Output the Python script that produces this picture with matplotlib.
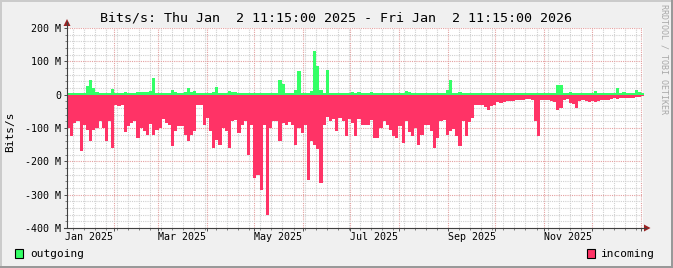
import datetime as dt
import numpy as np
import matplotlib
matplotlib.use('Agg')
import matplotlib.pyplot as plt
import matplotlib.dates as mdates
from matplotlib.ticker import FixedLocator, MultipleLocator, NullFormatter
from matplotlib.patches import Rectangle, Polygon
from matplotlib.lines import Line2D

W, H = 673, 268

# time range of the graph, data consolidated in 2-day steps
start = dt.datetime(2025, 1, 2, 11, 15)
end = dt.datetime(2026, 1, 2, 11, 15)
step_days = 2

# outgoing traffic, Mbit/s (drawn upwards)
outgoing = [
    5, 5, 6, 4, 5, 5, 25, 45, 20, 8,
    5, 5, 4, 5, 18, 4, 5, 5, 7, 6,
    5, 6, 7, 7, 8, 8, 10, 50, 6, 5,
    5, 5, 6, 15, 8, 5, 5,
    8, 20, 8, 10, 5, 5, 5, 5, 5, 8,
    23, 5, 5, 5, 10, 8, 8, 6, 5, 5,
    5, 5, 5, 4, 5, 5, 5, 5, 5, 6,
    43, 33, 5, 5, 5, 15,
    70, 5, 4, 4, 10, 130, 85, 15, 5, 75,
    5, 4, 4, 5, 5, 5, 5, 8, 5, 8,
    5, 5, 5, 8, 5, 5, 5, 5, 5, 5,
    5, 5, 5, 6, 12, 8, 5,
    5, 5, 5, 4, 5, 5, 5, 4, 4, 4,
    15, 45, 5, 5, 7, 5, 5, 5, 6, 5,
    5, 6, 5, 5, 5, 6, 5, 5, 5, 5,
    5, 6, 6, 5, 6, 6, 6,
    5, 5, 5, 6, 5, 5, 6, 5, 30, 28,
    6, 6, 7, 5, 6, 5, 6, 6, 5, 6,
    12, 6, 5, 5, 5, 6, 6, 20, 6, 7,
    6, 6, 5, 15, 7, 6,
]

# incoming traffic, Mbit/s (drawn downwards)
incoming = [
    -100, -125, -85, -80, -170, -90, -105, -140, -105, -100,
    -78, -100, -138, -78, -160, -30, -35, -30, -113, -95,
    -85, -78, -130, -100, -110, -120, -88, -120, -105, -100,
    -72, -85, -90, -155, -110, -95, -95,
    -120, -140, -120, -110, -30, -30, -90, -70, -108, -160,
    -135, -150, -100, -110, -160, -80, -75, -115, -90, -80,
    -180, -90, -250, -240, -285, -90, -360, -100, -78, -78,
    -140, -85, -90, -83, -90, -150,
    -100, -115, -92, -255, -140, -150, -162, -265, -90, -68,
    -78, -72, -110, -70, -80, -125, -72, -85, -125, -72,
    -92, -90, -90, -75, -130, -130, -100, -80, -90, -105,
    -125, -130, -95, -145, -80, -113, -125,
    -100, -150, -120, -92, -92, -110, -160, -130, -80, -77,
    -120, -110, -103, -125, -155, -80, -125, -82, -70, -30,
    -32, -30, -38, -47, -33, -31, -22, -25, -22, -18,
    -18, -18, -16, -17, -15, -13, -13,
    -16, -80, -123, -16, -15, -15, -18, -23, -45, -40,
    -15, -13, -25, -27, -40, -20, -17, -20, -23, -20,
    -23, -20, -15, -17, -15, -12, -10, -12, -11, -10,
    -11, -10, -10, -8, -7, -5,
]

yticks = [200, 100, 0, -100, -200, -300, -400]
ytick_labels = ['200 M', '100 M', '0', '-100 M', '-200 M', '-300 M', '-400 M']
xlabel_months = [(2025, 1), (2025, 3), (2025, 5), (2025, 7), (2025, 9), (2025, 11)]

plt.rcParams['font.family'] = 'DejaVu Sans Mono'

fig = plt.figure(figsize=(W / 100, H / 100), dpi=100, facecolor='#F0F0F0')


def fx(x):
    return x / W


def fy(y):
    return 1 - y / H


ax = fig.add_axes([fx(67), fy(228), 576 / W, 200 / H])
ax.set_facecolor('white')
for s in ax.spines.values():
    s.set_visible(False)

edges = [start + dt.timedelta(days=step_days * i) for i in range(len(incoming) + 1)]
x = mdates.date2num(edges)
out_v = np.append(outgoing, outgoing[-1])
in_v = np.append(incoming, incoming[-1])
ax.fill_between(x, 0, out_v, step='post', color='#33FF66', lw=0, zorder=3)
ax.fill_between(x, 0, in_v, step='post', color='#FF3366', lw=0, zorder=3)

ax.set_xlim(mdates.date2num(start), mdates.date2num(end))
ax.set_ylim(-400, 200)

# grid: months major, weeks minor; 100 M major, 20 M minor
ax.xaxis.set_major_locator(mdates.MonthLocator())
ax.xaxis.set_minor_locator(mdates.WeekdayLocator(byweekday=mdates.MO))
ax.xaxis.set_major_formatter(NullFormatter())
ax.yaxis.set_major_locator(FixedLocator(yticks))
ax.set_yticklabels(ytick_labels)
ax.yaxis.set_minor_locator(MultipleLocator(20))
ax.set_axisbelow(True)
ax.grid(which='minor', color='#D0D0D0', lw=0.8, ls=(0, (1, 1)))
ax.grid(which='major', color='#E4A0A0', lw=0.8, ls=(0, (1, 1)))

ax.tick_params(axis='both', which='major', length=2.2, width=0.7, color='#505050')
ax.tick_params(axis='both', which='minor', length=1.2, width=0.7, color='#808080')
ax.tick_params(axis='y', labelsize=7.2, pad=2.2)

trans = matplotlib.transforms.blended_transform_factory(ax.transData, ax.transAxes)
for yr, mo in xlabel_months:
    d = dt.datetime(yr, mo, 1)
    ax.text(mdates.date2num(d), -0.018, d.strftime('%b %Y'), transform=trans,
            ha='left', va='top', fontsize=7.2, clip_on=False)

# axis lines with arrows
fig.add_artist(Line2D([fx(67), fx(67)], [fy(228), fy(22)], color='#404040', lw=0.8))
fig.add_artist(Line2D([fx(64), fx(646)], [fy(228), fy(228)], color='#404040', lw=0.8))
fig.add_artist(Polygon([(fx(63.5), fy(26)), (fx(70.5), fy(26)), (fx(67), fy(19))],
                       closed=True, color='#992222', lw=0))
fig.add_artist(Polygon([(fx(644), fy(224.5)), (fx(644), fy(231.5)), (fx(650.5), fy(228))],
                       closed=True, color='#992222', lw=0))

# title and labels
fig.text(fx(336), fy(18), 'Bits/s: Thu Jan  2 11:15:00 2025 - Fri Jan  2 11:15:00 2026',
         ha='center', va='center', fontsize=9.6)
fig.text(fx(10.5), fy(132), 'Bits/s', rotation=90, ha='center', va='center', fontsize=8)
fig.text(fx(664), fy(4), 'RRDTOOL / TOBI OETIKER', rotation=270, ha='center', va='top',
         fontsize=6, color='#A8A8A8')

# legend
fig.add_artist(Rectangle((fx(15), fy(258)), 8 / W, 9 / H, facecolor='#33FF66',
                         edgecolor='black', lw=0.8))
fig.text(fx(30), fy(254), 'outgoing', ha='left', va='center', fontsize=8)
fig.add_artist(Rectangle((fx(587), fy(258)), 8 / W, 9 / H, facecolor='#FF3366',
                         edgecolor='black', lw=0.8))
fig.text(fx(601), fy(254), 'incoming', ha='left', va='center', fontsize=8)

# 3d frame around the image
fig.add_artist(Rectangle((0, fy(2)), 1, 2 / H, color='#CBCBCB', lw=0))
fig.add_artist(Rectangle((0, 0), 2 / W, 1, color='#CBCBCB', lw=0))
fig.add_artist(Rectangle((0, 0), 1, 2 / H, color='#999999', lw=0))
fig.add_artist(Rectangle((fx(671), 0), 2 / W, 1, color='#999999', lw=0))

fig.savefig('out.png', dpi=100, facecolor=fig.get_facecolor())
